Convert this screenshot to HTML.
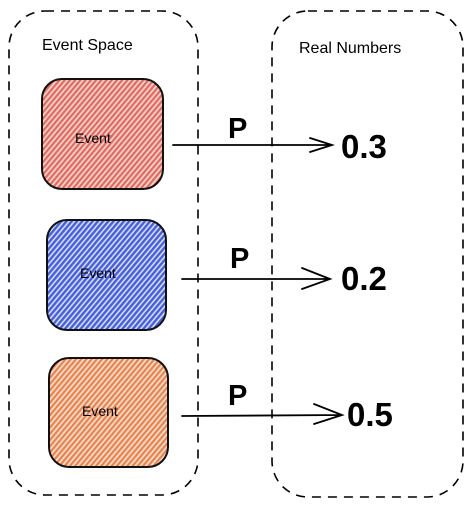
<!DOCTYPE html>
<html><head><style>html,body{margin:0;padding:0;background:#fff;}svg{display:block}</style></head>
<body>
<svg width="473" height="507" viewBox="0 0 473 507" xmlns="http://www.w3.org/2000/svg">
<defs>
<pattern id="hr" width="4" height="4" patternUnits="userSpaceOnUse" patternTransform="rotate(-50)">
<rect width="4" height="4" fill="#f6d2c8"/><rect width="4" height="2.2" fill="#e06a62"/></pattern>
<pattern id="hb" width="4" height="4" patternUnits="userSpaceOnUse" patternTransform="rotate(-50)">
<rect width="4" height="4" fill="#d9dcf7"/><rect width="4" height="2.4" fill="#4560dc"/></pattern>
<pattern id="ho" width="4" height="4" patternUnits="userSpaceOnUse" patternTransform="rotate(-50)">
<rect width="4" height="4" fill="#f8dccb"/><rect width="4" height="2.2" fill="#e8834e"/></pattern>
</defs>
<g fill="none" stroke="#000" stroke-width="1.6" stroke-dasharray="9 7">
<rect x="9" y="11" width="189" height="484" rx="36"/>
<rect x="272" y="11" width="191" height="486" rx="36"/>
</g>
<g stroke="#111" stroke-width="2">
<rect x="42" y="79" width="121" height="110" rx="20" fill="url(#hr)"/>
<rect x="47" y="220" width="119" height="110" rx="20" fill="url(#hb)"/>
<rect x="49" y="358" width="119" height="109" rx="20" fill="url(#ho)"/>
</g>
<g stroke="#000" stroke-width="1.8" fill="none" stroke-linecap="round">
<path d="M173 145 L332 145 M310 138 L332 145 L310 152"/>
<path d="M182 279 L330 279 M302 268 L330 279 L302 289"/>
<path d="M182 416 L342 415 M314 404 L342 415 L314 424"/>
</g>
<g font-family="'Liberation Sans',sans-serif" fill="#000">
<text x="42" y="50" font-size="16">Event Space</text>
<text x="299" y="53" font-size="16">Real Numbers</text>
<text x="75" y="143" font-size="14">Event</text>
<text x="80" y="278" font-size="14">Event</text>
<text x="82" y="416" font-size="14">Event</text>
<text x="228" y="138" font-size="29" font-weight="bold">P</text>
<text x="230" y="268" font-size="29" font-weight="bold">P</text>
<text x="228" y="405" font-size="29" font-weight="bold">P</text>
<text x="341" y="158" font-size="33" font-weight="bold">0.3</text>
<text x="341" y="290" font-size="33" font-weight="bold">0.2</text>
<text x="347" y="426" font-size="33" font-weight="bold">0.5</text>
</g>
</svg>
</body></html>
